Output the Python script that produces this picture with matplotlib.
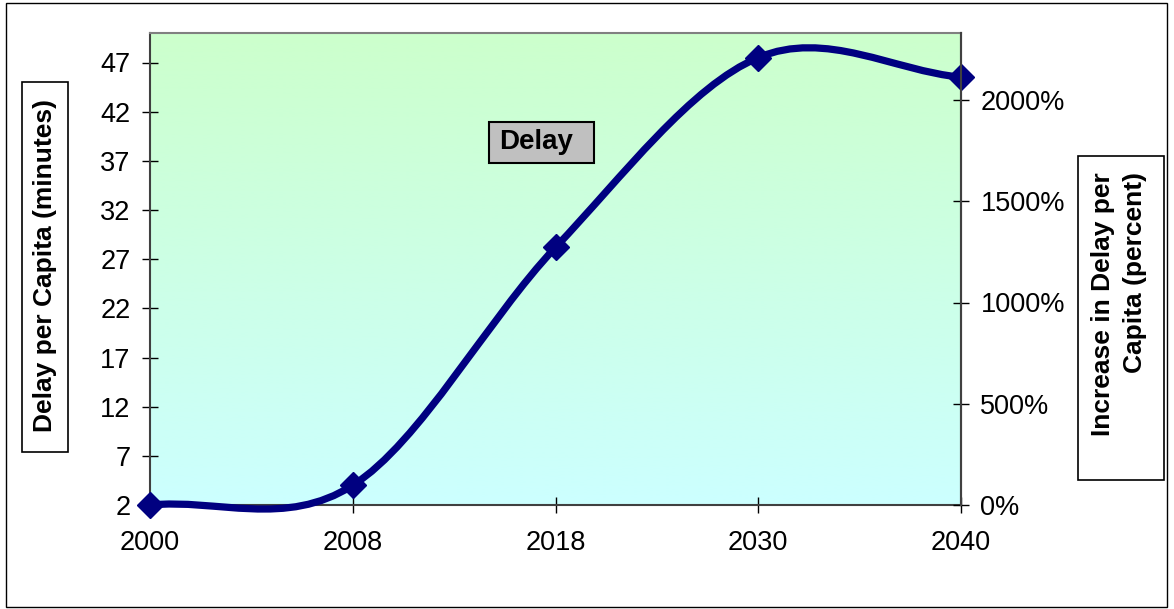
import numpy as np
import matplotlib
matplotlib.use("Agg")
import matplotlib.pyplot as plt
from matplotlib.patches import Rectangle, PathPatch
from matplotlib.path import Path

plt.rcParams['font.family'] = ['Liberation Sans', 'DejaVu Sans']

# Data
years = ["2000", "2008", "2018", "2030", "2040"]
delay_minutes = [2.0, 4.0, 28.2, 47.5, 45.5]
pct_ticks = [0, 500, 1000, 1500, 2000]
left_ticks = [2, 7, 12, 17, 22, 27, 32, 37, 42, 47]

W, H = 1174, 609
fig = plt.figure(figsize=(W / 100, H / 100), dpi=100)
fig.patch.set_facecolor('white')

def fx(px):
    return px / W

def fy(py):
    return 1 - py / H

ax_l, ax_r, ax_t, ax_b = 150, 961, 33, 505
ax = fig.add_axes([fx(ax_l), fy(ax_b), fx(ax_r - ax_l), (ax_b - ax_t) / H])

xs = np.arange(len(years), dtype=float)
ax.set_xlim(0, len(years) - 1)
ax.set_ylim(2, 50)

# Gradient plot area: light green at the top fading to light cyan at the bottom
top_c = np.array([204, 255, 204]) / 255
bot_c = np.array([204, 255, 255]) / 255
t = np.linspace(0, 1, 256)[:, None]
grad = (1 - t) * top_c + t * bot_c
ax.imshow(grad[:, None, :], extent=[0, len(years) - 1, 2, 50], aspect='auto',
          zorder=0, interpolation='bilinear')

# Smoothed line: cubic Bezier segments, Catmull-Rom control points,
# end points reflected so the end tangents follow the first/last chord
pts = np.column_stack([xs, delay_minutes])
ext = np.vstack([2 * pts[0] - pts[1], pts, 2 * pts[-1] - pts[-2]])
verts = [pts[0]]
codes = [Path.MOVETO]
for i in range(1, len(ext) - 2):
    c1 = ext[i] + (ext[i + 1] - ext[i - 1]) / 6
    c2 = ext[i + 1] - (ext[i + 2] - ext[i]) / 6
    verts += [c1, c2, ext[i + 1]]
    codes += [Path.CURVE4] * 3
ax.add_patch(PathPatch(Path(verts, codes), fill=False, edgecolor='#000080',
                       lw=5.2, capstyle='round', joinstyle='round', zorder=3,
                       clip_on=False))
ax.plot(xs, delay_minutes, linestyle='none', marker='D', ms=13,
        color='#000080', zorder=4, clip_on=False)

# Axes styling
ax.set_xticks(xs)
ax.set_xticklabels(years)
ax.set_yticks(left_ticks)
ax.tick_params(axis='both', direction='inout', length=12, width=1,
               color='black', labelsize=19.5)
ax.tick_params(axis='y', pad=8)
ax.tick_params(axis='x', pad=12)
ax.spines['top'].set_color('#808080')
ax.spines['top'].set_linewidth(1.5)
for s in ['left', 'right', 'bottom']:
    ax.spines[s].set_color('#404040')
    ax.spines[s].set_linewidth(1.5)

ax2 = ax.twinx()
ax2.set_ylim(0, 2000 * (ax_b - ax_t) / (ax_b - 100))
ax2.set_yticks(pct_ticks)
ax2.set_yticklabels([f"{v}%" for v in pct_ticks])
ax2.tick_params(axis='y', direction='inout', length=12, width=1,
                color='black', labelsize=19.5, pad=8)
for s in ['left', 'top', 'bottom']:
    ax2.spines[s].set_visible(False)
ax2.spines['right'].set_color('#404040')
ax2.spines['right'].set_linewidth(1.5)

# Series label box
fig.patches.append(Rectangle((fx(489), fy(163)), fx(105), 41 / H,
                             transform=fig.transFigure, facecolor='#C0C0C0',
                             edgecolor='black', lw=1.5, zorder=5))
fig.text(fx(536), fy(142), "Delay", ha='center', va='center', fontsize=20,
         fontweight='bold', zorder=6)

# Axis title boxes
fig.patches.append(Rectangle((fx(22), fy(452)), fx(46), 370 / H,
                             transform=fig.transFigure, facecolor='white',
                             edgecolor='black', lw=1.2, zorder=5))
fig.text(fx(45), fy(266), "Delay per Capita (minutes)", rotation=90,
         ha='center', va='center', fontsize=19, fontweight='bold', zorder=6)

fig.patches.append(Rectangle((fx(1078), fy(480)), fx(86), 324 / H,
                             transform=fig.transFigure, facecolor='white',
                             edgecolor='black', lw=1.2, zorder=5))
fig.text(fx(1119), fy(304), "Increase in Delay per\nCapita (percent)",
         rotation=90, ha='center', va='center', fontsize=19,
         fontweight='bold', linespacing=1.4, multialignment='right',
         zorder=6)

# Outer chart border
fig.patches.append(Rectangle((fx(6), fy(607)), fx(1161), 604 / H,
                             transform=fig.transFigure, facecolor='none',
                             edgecolor='black', lw=1, zorder=1))

fig.savefig("out.png", dpi=100)
